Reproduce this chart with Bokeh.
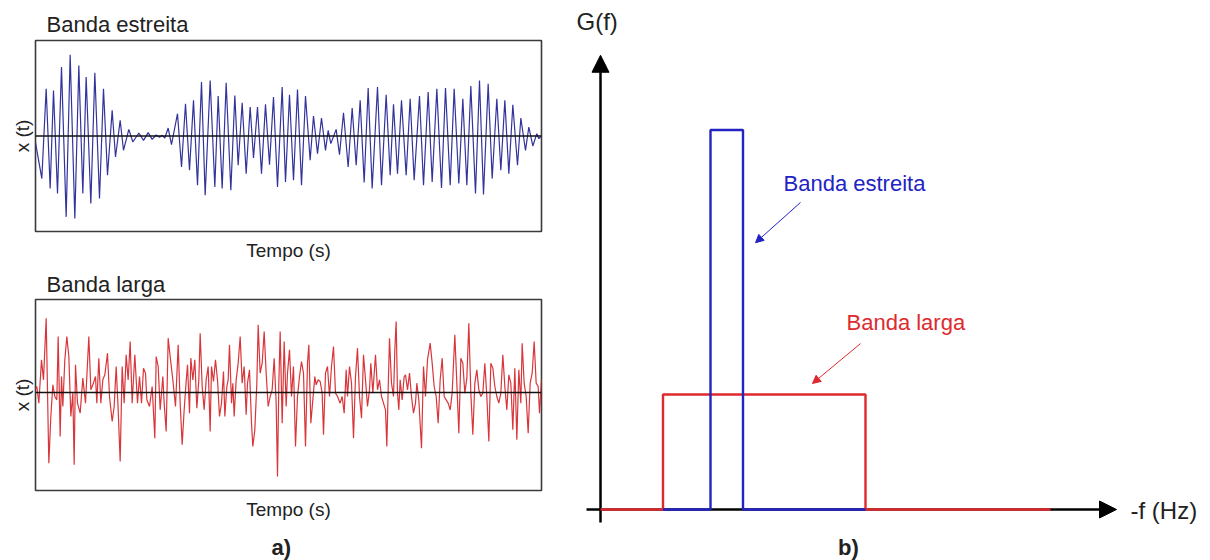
from bokeh.plotting import figure
from bokeh.layouts import row, column
from bokeh.models import Range1d, Span, FixedTicker, Label, Arrow, NormalHead
from bokeh.embed import file_html
from bokeh.resources import INLINE

FONT = "Liberation Sans"
TEXT = "#222222"

# ---------------------------------------------------------------------------
# Time records (t in ms, x in arbitrary units): successive extremes of x(t)
# ---------------------------------------------------------------------------
narrow_t = [0, 19, 32, 44, 54, 66, 78, 92, 104, 118, 130, 142, 152, 166, 178, 192, 204, 216, 230, 240,
            254, 264, 280, 292, 310, 324, 338, 350, 362, 372, 380, 388, 398, 408, 426, 438, 450, 462, 474, 486, 498,
            509, 524, 538, 548, 560, 572, 586, 598, 608, 620, 632, 644, 654, 666, 678, 690, 702, 714, 726, 740,
            750, 762, 774, 786, 798, 810, 824, 834, 846, 858, 870, 878, 886, 902, 912, 924, 938, 950, 962, 974,
            986, 998, 1010,
            1026, 1038, 1052, 1064, 1074, 1086, 1098, 1112, 1124, 1136, 1152, 1164, 1178, 1190, 1204, 1218,
            1230, 1244, 1256, 1270, 1282, 1294, 1306, 1320, 1332, 1344, 1358, 1370, 1384, 1396, 1408, 1420,
            1432, 1446, 1456, 1470, 1480, 1492, 1504, 1510, 1518]
narrow_x = [-20, -128, 142, -158, 137, -173, 207, -243, 244, -248, 212, -173, 177, -203, 190, -188, 142, -118, 77, -63,
            47, -43, 20, -18, 9, -13, 10, -10, 3, -4, 2, -6, 24, -26, 67, -93, 97, -103, 107, -148, 162,
            -178, 167, -153, 120, -158, 160, -163, 122, -88, 100, -113, 87, -66, 87, -113, 95, -86, 117, -153, 147,
            -138, 124, -133, 140, -148, 120, -73, 60, -53, 54, -43, 17, -23, 20, -56, 70, -93, 84, -88, 107,
            -140, 144, -158,
            147, -148, 124, -118, 95, -113, 107, -118, 112, -133, 120, -148, 132, -138, 142, -156,
            144, -148, 142, -143, 112, -148, 150, -173, 167, -176, 157, -128, 112, -103, 107, -113,
            94, -88, 54, -43, 27, -30, 7, -8, 0]

wide_samples = [
    (0, 10), (4, 18), (10, -32), (18, 98), (24, 38), (32, 223), (40, -212), (46, -72), (52, 23), (58, -12),
    (64, -22), (68, 168), (74, -132), (78, 48), (82, -42), (88, 98), (94, 168), (100, 108), (106, -72), (112, -2),
    (116, -217), (120, 83), (126, -32), (134, -62), (142, 43), (150, -32), (160, 168), (166, 8), (172, 23), (180, 48),
    (184, -32), (190, 103), (196, -32), (202, 38), (208, 53), (216, 118), (222, -12), (230, -87), (236, -42), (242, 78),
    (248, -52), (254, -207), (260, 78), (266, -32), (272, 113), (278, 38), (284, 153), (290, -32), (298, 113), (306, -32),
    (312, 48), (318, -32), (324, 73), (330, 58), (334, -22), (342, -42), (350, 18), (358, -137), (362, 108), (368, 78),
    (374, -52), (382, 48), (386, -32), (392, -117), (398, 163), (404, 108), (412, 38), (420, -42), (428, 143), (434, -32),
    (440, -157), (446, -52), (452, 33), (456, 83), (462, -62), (466, 103), (472, 38), (478, 98), (484, -47), (490, 38),
    (494, 178), (500, 18), (506, -52), (512, 38), (518, 78), (524, -117), (528, 78), (534, 33), (540, 98), (546, 38),
    (552, -72), (558, -32), (564, 63), (568, -72), (574, 18), (578, 38), (582, 143), (588, -32), (592, 28), (596, -72),
    (602, 38), (608, 88), (614, 168), (620, 28), (626, 78), (632, -67), (636, 28), (642, 68), (648, -92), (652, -162),
    (658, -112), (664, 28), (668, 203), (674, 58), (680, 88), (686, 183), (692, 58), (698, -42), (704, -12), (710, 8),
    (716, 103), (722, -32), (726, -252), (730, 28), (734, 183), (740, -92), (746, 153), (752, -42), (756, 58), (762, 128),
    (768, -12), (774, 78), (780, -162), (786, -12), (792, 48), (798, 93), (804, 58), (810, -162), (816, 88), (820, 143),
    (826, -92), (832, -22), (838, 48), (842, 23), (848, 38), (854, 33), (860, -2), (864, -127), (870, 58), (876, 78),
    (882, -12), (888, 78), (894, 138), (900, -2), (906, -12), (914, -32), (920, -12), (926, -62), (932, 68), (936, -12),
    (942, 78), (948, 28), (954, -137), (960, 48), (966, 133), (972, -12), (978, -77), (984, 113), (990, 38), (996, -42),
    (1002, 8), (1006, 88), (1012, -2), (1020, 113), (1026, 8), (1032, 38), (1038, -12), (1044, -32), (1050, -52), (1054, -162),
    (1058, 8), (1062, 163), (1068, 28), (1074, -12), (1078, 128), (1082, 213), (1086, -2), (1090, -52), (1094, 38), (1100, -22),
    (1106, 48), (1110, 53), (1116, 8), (1122, 58), (1128, -12), (1134, -62), (1140, -32), (1144, 28), (1150, -22), (1158, -167),
    (1164, 78), (1170, -12), (1176, 98), (1184, 148), (1190, 88), (1196, 18), (1202, -12), (1208, -92), (1214, 38), (1220, 103),
    (1226, -12), (1232, -22), (1238, -32), (1244, -52), (1250, -2), (1258, 173), (1264, 28), (1270, -122), (1276, 103), (1282, 88),
    (1288, -2), (1294, 43), (1300, 208), (1306, -2), (1312, -127), (1318, 28), (1324, 68), (1330, 8), (1336, -12), (1342, -2),
    (1348, 88), (1354, -12), (1360, -147), (1366, 88), (1372, 73), (1378, 18), (1384, -12), (1390, -32), (1396, -2), (1402, 113),
    (1408, 18), (1414, -52), (1420, 53), (1426, 28), (1432, -112), (1438, 73), (1444, -142), (1450, 68), (1456, -32), (1460, 148),
    (1466, 28), (1472, -12), (1478, -122), (1484, 28), (1490, 58), (1496, 153), (1502, 28), (1508, 18), (1512, -62), (1518, 40),
]
wide_t = [s[0] for s in wide_samples]
wide_x = [s[1] for s in wide_samples]

# ---------------------------------------------------------------------------
# Idealised spectral densities G(f): band edges (Hz) and levels
# ---------------------------------------------------------------------------
wide_band = (1.25, 5.3)
wide_level = 1.0
narrow_band = (2.2, 2.85)
narrow_level = 3.3
f_max = 9.0

wide_f = [0, wide_band[0], wide_band[0], wide_band[1], wide_band[1], f_max]
wide_g = [0, 0, wide_level, wide_level, 0, 0]
narrow_f = [wide_band[0], narrow_band[0], narrow_band[0], narrow_band[1], narrow_band[1], wide_band[1]]
narrow_g = [0, 0, narrow_level, narrow_level, 0, 0]

BLUE_SIG = "#33339c"
RED_SIG = "#d8363b"
BLUE = "#2323c4"
RED = "#de2a2e"


def signal_panel(title, t, x, color, height, top, bottom, y_lo, y_hi, title_standoff):
    p = figure(width=560, height=height, output_backend="svg", toolbar_location=None,
               x_range=Range1d(0, 1518), y_range=Range1d(y_lo, y_hi),
               min_border_left=35, min_border_right=19,
               min_border_top=top, min_border_bottom=bottom)
    p.title.text = title
    p.title.text_font = FONT
    p.title.text_font_size = "22px"
    p.title.text_font_style = "normal"
    p.title.text_color = TEXT
    p.title.align = "left"
    p.title.offset = 11
    p.title.standoff = title_standoff
    p.grid.visible = False
    p.outline_line_color = "#3a3a3a"
    p.outline_line_width = 1.6
    for ax, lab, standoff in ((p.xaxis, "Tempo (s)", 8), (p.yaxis, "x (t)", 3)):
        ax.ticker = FixedTicker(ticks=[])
        ax.major_tick_out = 0
        ax.major_tick_in = 0
        ax.minor_tick_out = 0
        ax.minor_tick_in = 0
        ax.major_label_standoff = 0
        ax.axis_line_color = None
        ax.axis_label = lab
        ax.axis_label_text_font = FONT
        ax.axis_label_text_font_size = "19px"
        ax.axis_label_text_font_style = "normal"
        ax.axis_label_text_color = TEXT
        ax.axis_label_standoff = standoff
    p.line(t, x, line_color=color, line_width=1.2)
    p.add_layout(Span(location=0, dimension="width", line_color="#111111", line_width=1.4))
    return p


top = signal_panel("Banda estreita", narrow_t, narrow_x, BLUE_SIG, 266, 40, 35, -287, 287, 8)
bottom = signal_panel("Banda larga", wide_t, wide_x, RED_SIG, 259, 33, 35, -294, 279, 6)

# strip underneath the time records carrying the "a)" caption
caption = figure(width=560, height=35, output_backend="svg", toolbar_location=None,
                 x_range=Range1d(0, 560), y_range=Range1d(0, 35),
                 x_axis_location=None, y_axis_location=None, min_border=0)
caption.grid.visible = False
caption.outline_line_color = None
caption.add_layout(Label(x=272, y=13, text="a)", text_align="center", text_baseline="middle",
                         text_font=FONT, text_font_size="22px", text_font_style="bold",
                         text_color=TEXT))

# ---------------------------------------------------------------------------
# Spectrum sketch
# ---------------------------------------------------------------------------
q = figure(width=650, height=560, output_backend="svg", toolbar_location=None,
           x_range=Range1d(-0.8, 12.2), y_range=Range1d(-0.4435, 4.4261),
           x_axis_location=None, y_axis_location=None, min_border=0)
q.grid.visible = False
q.outline_line_color = None

q.add_layout(Arrow(x_start=0, y_start=-0.113, x_end=0, y_end=3.95, level="underlay",
                   line_color="black", line_width=2.5,
                   end=NormalHead(size=17, fill_color="black", line_color="black")))
q.add_layout(Arrow(x_start=-0.28, y_start=0, x_end=10.32, y_end=0, level="underlay",
                   line_color="black", line_width=2.5,
                   end=NormalHead(size=17, fill_color="black", line_color="black")))

q.line(wide_f, wide_g, line_color=RED, line_width=2.4)
q.line(narrow_f, narrow_g, line_color=BLUE, line_width=2.4)

q.add_layout(Arrow(x_start=4.0, y_start=2.67, x_end=3.1, y_end=2.32, line_color=BLUE, line_width=1,
                   end=NormalHead(size=8, fill_color=BLUE, line_color=BLUE)))
q.add_layout(Arrow(x_start=5.2, y_start=1.443, x_end=4.24, y_end=1.096, line_color=RED, line_width=1,
                   end=NormalHead(size=8, fill_color=RED, line_color=RED)))

q.add_layout(Label(x=3.66, y=2.835, text="Banda estreita", text_baseline="middle",
                   text_font=FONT, text_font_size="22px", text_color=BLUE))
q.add_layout(Label(x=4.92, y=1.626, text="Banda larga", text_baseline="middle",
                   text_font=FONT, text_font_size="22px", text_color=RED))
q.add_layout(Label(x=-0.48, y=4.243, text="G(f)", text_baseline="middle",
                   text_font=FONT, text_font_size="24px", text_color=TEXT))
q.add_layout(Label(x=10.6, y=-0.01, text="-f (Hz)", text_baseline="middle",
                   text_font=FONT, text_font_size="24px", text_color=TEXT))
q.add_layout(Label(x=4.96, y=-0.33, text="b)", text_align="center", text_baseline="middle",
                   text_font=FONT, text_font_size="22px", text_font_style="bold", text_color=TEXT))

layout = row(column(top, bottom, caption), q)

with open("out.html", "w") as fh:
    fh.write(file_html(layout, INLINE))
